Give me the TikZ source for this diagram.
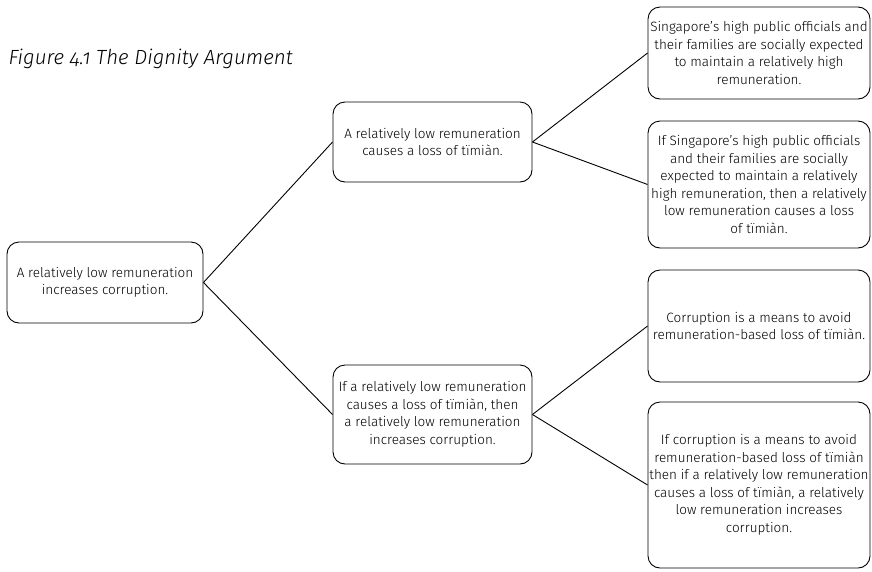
\documentclass[tikz,border=0pt]{standalone}
\usepackage{fontspec}
\setmainfont{Fira Sans}[UprightFont=* Light, ItalicFont=* Light Italic]
\usepackage{tikz}
\usetikzlibrary{calc}

\begin{document}
\begin{tikzpicture}[x=1pt,y=-1pt]
     \tikzstyle{every node}=[font=\fontsize{13.5}{17.5}\selectfont,text=black]
     \tikzstyle{claim}=[draw,line width=0.9pt,rounded corners=12pt,align=center,inner sep=1pt]
     \useasboundingbox (0,0) rectangle (872,571);
      \coordinate (Root)   at (105,282.5);
      \coordinate (Upper)  at (432.5,142);
      \coordinate (Lower)  at (432.5,414.5);
      \node [font=\fontsize{20.5}{24}\selectfont\itshape\addfontfeatures{Numbers=OldStyle},anchor=base west] (title) at (5,64) {Figure 4.1 The Dignity Argument};
      \node [claim,minimum width=196pt,minimum height=81pt] (root) at (Root)
        {A relatively low remuneration\\increases corruption.};
      \node [claim,minimum width=199pt,minimum height=80pt] (loss) at (Upper)
        {A relatively low remuneration\\causes a loss of tïmiàn.};
      \node [claim,minimum width=199pt,minimum height=99pt] (link) at (Lower)
        {If a relatively low remuneration\\causes a loss of tïmiàn, then\\a relatively low remuneration\\increases corruption.};
      \node [claim,minimum width=222pt,minimum height=92pt] (expect) at (759,53)
        {Singapore’s high public officials and\\their families are socially expected\\to maintain a relatively high\\remuneration.};
      \node [claim,minimum width=222pt,minimum height=127pt] (cond) at (759,184.5)
        {If Singapore’s high public officials\\and their families are socially\\expected to maintain a relatively\\high remuneration, then a relatively\\low remuneration causes a loss\\of tïmiàn.};
      \node [claim,minimum width=222pt,minimum height=112pt] (means) at (759,326)
        {Corruption is a means to avoid\\remuneration-based loss of tïmiàn.};
      \node [claim,minimum width=222pt,minimum height=166pt] (chain) at (759,485)
        {If corruption is a means to avoid\\remuneration-based loss of tïmiàn\\then if a relatively low remuneration\\causes a loss of tïmiàn, a relatively\\low remuneration increases\\corruption.};
      \draw [line width=0.9pt] (root.east) -- (loss.west);
      \draw [line width=0.9pt] (root.east) -- (link.west);
      \draw [line width=0.9pt] (loss.east) -- (expect.west);
      \draw [line width=0.9pt] (loss.east) -- (cond.west);
      \draw [line width=0.9pt] (link.east) -- (means.west);
      \draw [line width=0.9pt] (link.east) -- (chain.west);
    \end{tikzpicture}
\end{document}
